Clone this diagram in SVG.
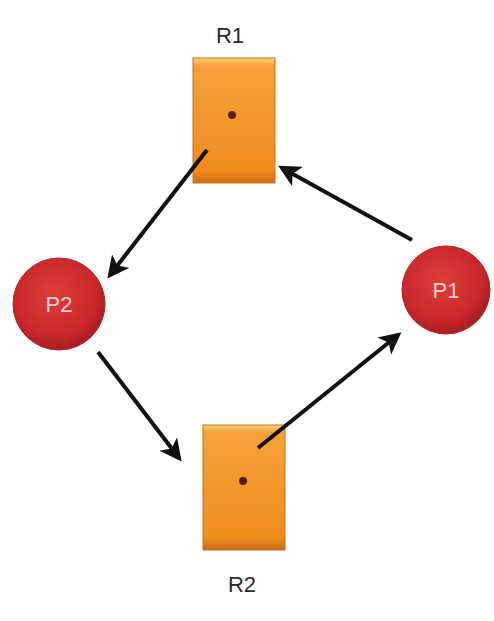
<svg xmlns="http://www.w3.org/2000/svg" width="494" height="621" viewBox="0 0 494 621">
  <style>
    .label { font-family: "Liberation Sans", Arial, sans-serif; font-size: 22px; fill: #2a2a2a; text-anchor: middle; }
    .plabel { font-family: "Liberation Sans", Arial, sans-serif; font-size: 22px; fill: #f4d0d0; text-anchor: middle; }
    .res { fill: url(#resFill); stroke: #c8701a; stroke-width: 1; }
    .proc { fill: url(#procFill); stroke: #b51f25; stroke-width: 1; }
    .dot { fill: #5a1e08; }
    .edge { stroke: #111; stroke-width: 4; fill: none; marker-end: url(#head); }
  </style>
  <defs>
    <linearGradient id="resFill" x1="0" y1="0" x2="0" y2="1">
      <stop offset="0" stop-color="#fbd27a"/>
      <stop offset="0.06" stop-color="#f7a13a"/>
      <stop offset="0.9" stop-color="#f08c1e"/>
      <stop offset="1" stop-color="#c96c14"/>
    </linearGradient>
    <radialGradient id="procFill" cx="0.45" cy="0.4" r="0.6">
      <stop offset="0" stop-color="#de3e3a"/>
      <stop offset="0.75" stop-color="#c9282b"/>
      <stop offset="1" stop-color="#a81d22"/>
    </radialGradient>
    <!-- notched arrowhead, scaled by stroke width -->
    <marker id="head" viewBox="0 0 10 10" refX="8" refY="5" markerWidth="5.5" markerHeight="5.5" orient="auto" markerUnits="strokeWidth">
      <path d="M0,0 L10,5 L0,10 L2.5,5 z" fill="#111"/>
    </marker>
  </defs>

  <g id="R1">
    <rect class="res" x="193" y="58" width="82" height="125"/>
    <circle class="dot" cx="232" cy="115" r="4"/>
    <text class="label" x="230" y="43">R1</text>
  </g>
  <g id="R2">
    <rect class="res" x="203" y="425" width="82" height="125"/>
    <circle class="dot" cx="243" cy="481" r="4"/>
    <text class="label" x="242" y="592">R2</text>
  </g>
  <g id="P1">
    <circle class="proc" cx="446" cy="290" r="44"/>
    <text class="plabel" x="446" y="298">P1</text>
  </g>
  <g id="P2">
    <circle class="proc" cx="59" cy="304" r="46"/>
    <text class="plabel" x="59" y="312">P2</text>
  </g>

  <g id="connectors">
    <line class="edge" x1="207" y1="150" x2="110" y2="275"/>
    <line class="edge" x1="412" y1="240" x2="282" y2="168"/>
    <line class="edge" x1="98" y1="352" x2="179" y2="458"/>
    <line class="edge" x1="258" y1="448" x2="398" y2="335"/>
  </g>
</svg>
